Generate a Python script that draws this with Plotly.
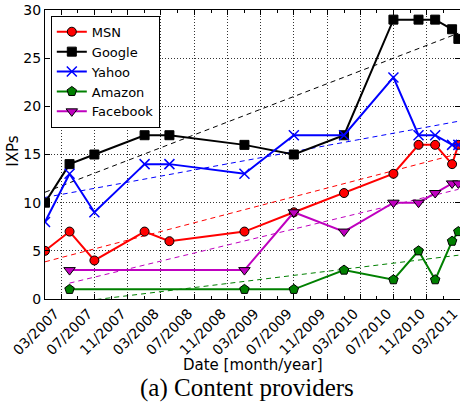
import numpy as np
import pandas as pd
import plotly.graph_objects as go

# ---- data ----
dates_all = ["2007-01-01", "2007-04-01", "2007-07-01", "2008-01-01", "2008-04-01",
             "2009-01-01", "2009-07-01", "2010-01-01", "2010-07-01", "2010-10-01",
             "2010-12-01", "2011-02-01", "2011-02-24"]
dates_late = ["2007-04-01", "2009-01-01", "2009-07-01", "2010-01-01", "2010-07-01",
              "2010-10-01", "2010-12-01", "2011-02-01", "2011-02-24"]

msn = [5, 7, 4, 7, 6, 7, 9, 11, 13, 16, 16, 14, 16]
google = [10, 14, 15, 17, 17, 16, 15, 17, 29, 29, 29, 28, 27]
yahoo = [8, 13, 9, 14, 14, 13, 17, 17, 23, 17, 17, 16, 16]
amazon = [1, 1, 1, 3, 2, 5, 2, 6, 7]
facebook = [3, 3, 9, 7, 10, 10, 11, 12, 12]

y_ticks = [0, 5, 10, 15, 20, 25, 30]

series = [
    ("MSN", dates_all, msn, "#ff0000", dict(symbol="circle", size=9, line=dict(color="black", width=1))),
    ("Google", dates_all, google, "#000000", dict(symbol="square", size=9, line=dict(color="black", width=1))),
    ("Yahoo", dates_all, yahoo, "#0000ff", dict(symbol="x-thin", size=10, line=dict(color="#0000ff", width=1.5))),
    ("Amazon", dates_late, amazon, "#008000", dict(symbol="pentagon", size=10, line=dict(color="black", width=1))),
    ("Facebook", dates_late, facebook, "#bf00bf", dict(symbol="triangle-down", size=10, line=dict(color="black", width=1))),
]

fig = go.Figure()

# linear trend lines (least squares fit of each series)
for name, d, v, col, mk in series:
    t = pd.to_datetime(d)
    days = (t - pd.Timestamp("2007-01-01")).days.values.astype(float)
    k, b = np.polyfit(days, np.array(v, dtype=float), 1)
    ends = np.array([days.min(), days.max()])
    fig.add_trace(go.Scatter(
        x=[t.min(), t.max()], y=k * ends + b, mode="lines",
        line=dict(color=col, width=1, dash="5px,4px"),
        showlegend=False, hoverinfo="skip"))

for name, d, v, col, mk in series:
    fig.add_trace(go.Scatter(
        x=pd.to_datetime(d), y=v, name=name, mode="lines+markers",
        line=dict(color=col, width=2), marker=dict(color=col, **mk)))

axis_font = dict(family="DejaVu Sans", size=14, color="black")

fig.update_layout(
    width=460, height=405,
    margin=dict(l=45, r=0, t=10, b=106),
    paper_bgcolor="white", plot_bgcolor="white",
    font=axis_font,
    showlegend=True,
    legend=dict(x=0.014, y=0.98, xanchor="left", yanchor="top",
                bgcolor="white", bordercolor="black", borderwidth=1,
                font=dict(family="DejaVu Sans", size=13, color="black"),
                tracegroupgap=0, itemwidth=30),
    annotations=[
        dict(text="Date [month/year]", x=0.5, y=-0.23, xref="paper", yref="paper",
             xanchor="center", yanchor="middle", showarrow=False,
             font=dict(family="DejaVu Sans", size=15, color="black")),
        dict(text="(a) Content providers", x=0.487, y=-0.308, xref="paper", yref="paper",
             xanchor="center", yanchor="middle", showarrow=False,
             font=dict(family="Liberation Serif", size=25, color="black")),
        dict(text="IXPs", x=-0.077, y=0.51, xref="paper", yref="paper", textangle=-90,
             xanchor="center", yanchor="middle", showarrow=False,
             font=dict(family="DejaVu Sans", size=15, color="black")),
    ],
)

fig.update_xaxes(
    type="date", range=["2007-01-01", "2011-03-02"], automargin=False,
    tick0="2007-03-01", dtick="M4", tickformat="%m/%Y", tickangle=-45,
    ticklabeloverflow="allow", ticklabelshift=-6,
    ticks="inside", ticklen=5, tickcolor="black",
    minor=dict(dtick="M2", tick0="2007-03-01", ticks="inside", ticklen=3, tickcolor="black", showgrid=False),
    showline=True, linecolor="black", linewidth=1, mirror="ticks",
    showgrid=True, gridcolor="#333333", gridwidth=1, griddash="1px,2px",
    zeroline=False, tickfont=axis_font,
)
fig.update_yaxes(
    range=[0, 30], tickvals=y_ticks, automargin=False,
    ticks="inside", ticklen=5, tickcolor="black",
    showline=True, linecolor="black", linewidth=1, mirror="ticks",
    showgrid=True, gridcolor="#333333", gridwidth=1, griddash="1px,2px",
    zeroline=False, tickfont=axis_font,
)

# remove the default 8px page margin so the 460x405 figure fills the window
fig.write_html("out.html", config={"displayModeBar": False},
               post_script="document.body.style.margin='0';")
